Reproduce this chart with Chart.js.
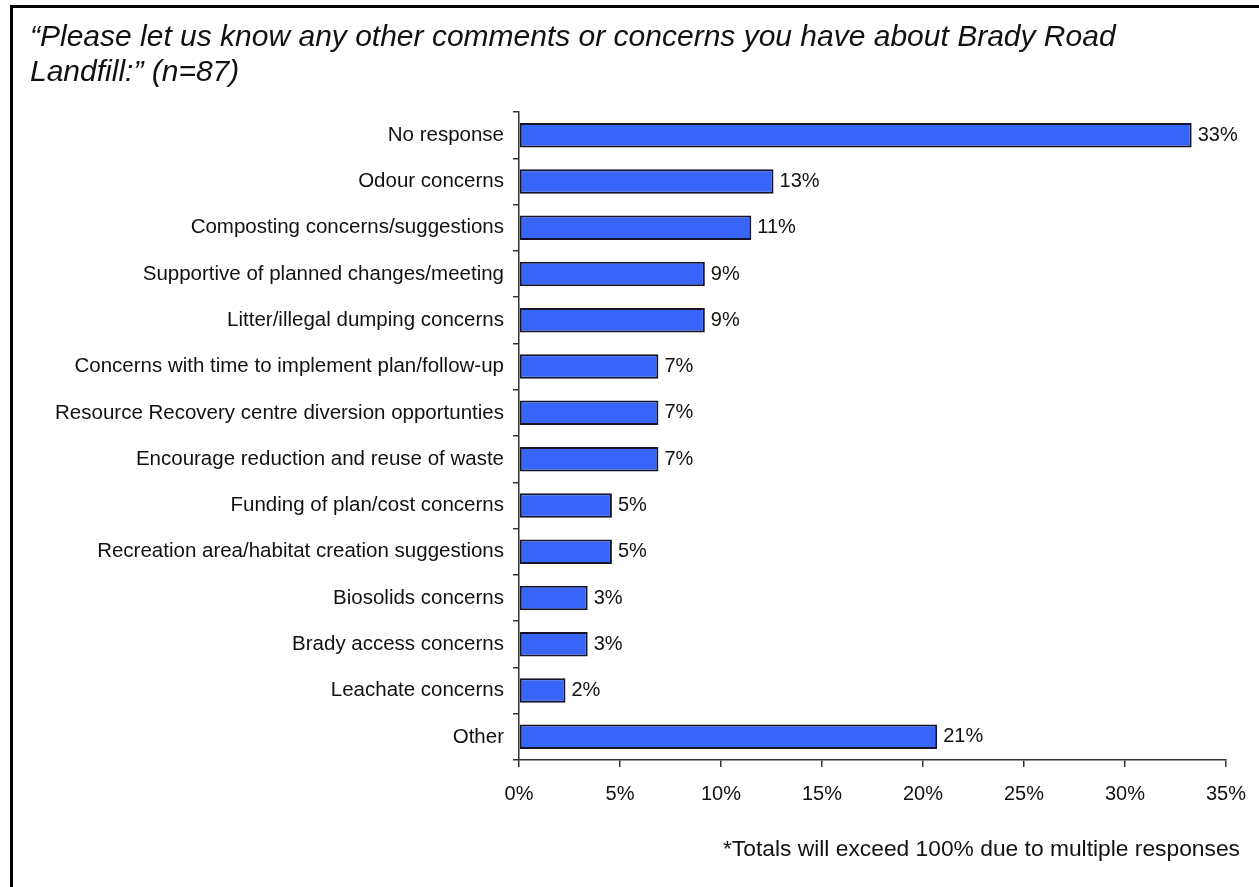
<!DOCTYPE html>
<html>
<head>
<meta charset="utf-8">
<script src="https://cdn.jsdelivr.net/npm/chart.js@4/dist/chart.umd.min.js"></script>
<style>
  html, body { margin: 0; padding: 0; background: #fff; overflow: hidden; }
  #frame {
    position: absolute; left: 10px; top: 5px; width: 1400px; height: 1000px;
    border-left: 3px solid #000; border-top: 3px solid #000;
  }
  #title {
    position: absolute; left: 30px; top: 18px; width: 1150px;
    font: italic 30px "Liberation Sans", Arial, sans-serif; line-height: 35px; color: #111;
  }
  #note {
    position: absolute; right: 19px; top: 835px;
    font: 22.8px "Liberation Sans", Arial, sans-serif; color: #111;
  }
  #wrap { position: absolute; left: 0; top: 0; width: 1259px; height: 887px; }
</style>
</head>
<body>
<div id="frame"></div>
<div id="wrap"><canvas id="chart"></canvas></div>
<div id="title">“Please let us know any other comments or concerns you have about Brady Road Landfill:” (n=87)</div>
<div id="note">*Totals will exceed 100% due to multiple responses</div>
<script>
// categories (top to bottom)
const categories = [
    'No response',
    'Odour concerns',
    'Composting concerns/suggestions',
    'Supportive of planned changes/meeting',
    'Litter/illegal dumping concerns',
    'Concerns with time to implement plan/follow-up',
    'Resource Recovery centre diversion opportunties',
    'Encourage reduction and reuse of waste',
    'Funding of plan/cost concerns',
    'Recreation area/habitat creation suggestions',
    'Biosolids concerns',
    'Brady access concerns',
    'Leachate concerns',
    'Other'
];

// share of respondents, %
const values = [33.3, 12.6, 11.5, 9.2, 9.2, 6.9, 6.9, 6.9, 4.6, 4.6, 3.4, 3.4, 2.3, 20.7];

// labels printed at bar ends
const valueLabels = ['33%', '13%', '11%', '9%', '9%', '7%', '7%', '7%', '5%', '5%', '3%', '3%', '2%', '21%'];

// x axis ticks
const xTicks = [0, 5, 10, 15, 20, 25, 30, 35];

const fontFamily = '"Liberation Sans", Arial, sans-serif';

// draw value labels next to each bar
const barLabels = {
    id: 'barLabels',
    afterDatasetsDraw(chart) {
        const ctx = chart.ctx;
        const meta = chart.getDatasetMeta(0);
        ctx.save();
        ctx.font = '20px ' + fontFamily;
        ctx.fillStyle = '#111';
        ctx.textAlign = 'left';
        ctx.textBaseline = 'middle';
        meta.data.forEach((bar, i) => {
            ctx.fillText(valueLabels[i], bar.x + 6, bar.y);
        });
        ctx.restore();
    }
};

new Chart(document.getElementById('chart'), {
    type: 'bar',
    data: {
        labels: categories,
        datasets: [{
            data: values,
            backgroundColor: '#3864F8',
            borderColor: '#15152a',
            borderWidth: 2,
            borderSkipped: false,
            barPercentage: 0.53,
            categoryPercentage: 1
        }]
    },
    options: {
        indexAxis: 'y',
        responsive: true,
        maintainAspectRatio: false,
        animation: false,
        layout: { padding: { top: 112, right: 33, bottom: 77, left: 20 } },
        plugins: {
            legend: { display: false },
            tooltip: { enabled: false }
        },
        scales: {
            x: {
                min: 0,
                max: 35,
                afterBuildTicks(scale) {
                    scale.ticks = xTicks.map(v => ({ value: v }));
                },
                afterFit(scale) {
                    scale.height = 50;
                    scale.paddingLeft = 0;
                    scale.paddingRight = 0;
                },
                grid: { drawOnChartArea: false, tickLength: 7, color: '#333', lineWidth: 1.5 },
                border: { color: '#333', width: 1.5 },
                ticks: {
                    color: '#111',
                    font: { size: 20, family: fontFamily },
                    padding: 15,
                    callback: v => v + '%'
                }
            },
            y: {
                afterFit(scale) { scale.width = 499; },
                grid: { offset: true, drawOnChartArea: false, tickLength: 6, color: '#333', lineWidth: 1.5 },
                border: { color: '#333', width: 1.5 },
                ticks: {
                    color: '#111',
                    font: { size: 20.5, family: fontFamily },
                    padding: 9
                }
            }
        }
    },
    plugins: [barLabels]
});
</script>
</body>
</html>
